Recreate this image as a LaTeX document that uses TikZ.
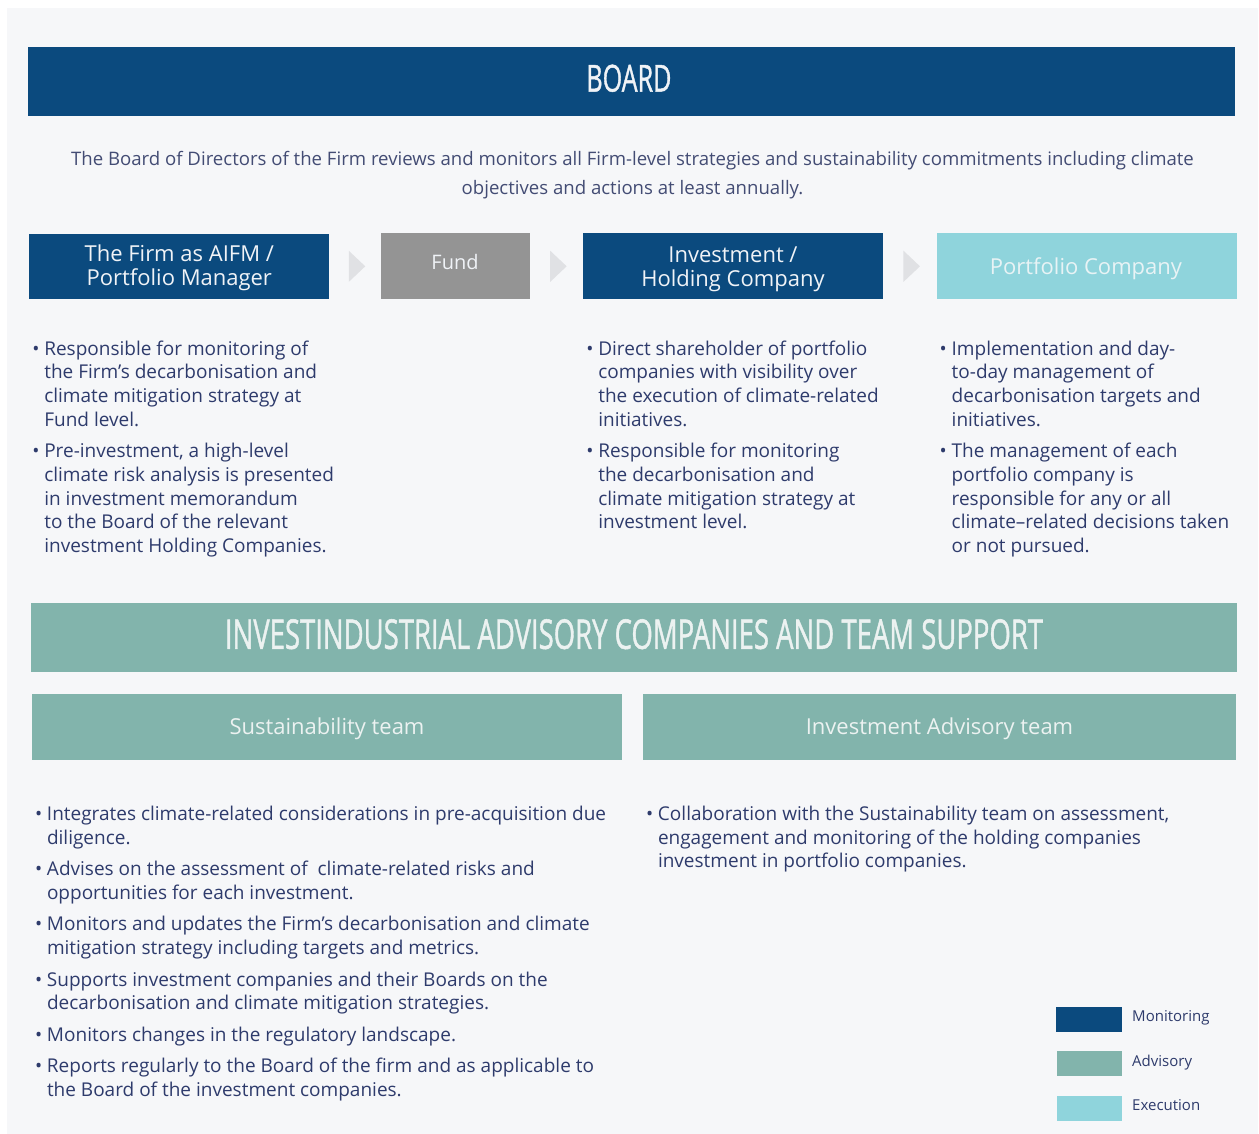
\documentclass[tikz,border=0pt]{standalone}
\usepackage{fontspec}
\setmainfont{Open Sans}
\setsansfont{Open Sans}
\newfontfamily\titlefont{Open Sans}[FakeBold=1.3]
\usetikzlibrary{calc}
\definecolor{navy}{HTML}{0B4A7E}
\definecolor{advis}{HTML}{82B4AC}
\definecolor{execu}{HTML}{8FD4DC}
\definecolor{fundgray}{HTML}{949494}
\definecolor{chevc}{HTML}{E0E1E4}
\definecolor{panelc}{HTML}{F6F7F9}
\definecolor{bodytxt}{HTML}{2E3B6C}
\definecolor{desctxt}{HTML}{434C74}
\definecolor{boxtxt}{HTML}{F0F3F7}
\definecolor{exectxt}{HTML}{E8F3F5}
\definecolor{advtxt}{HTML}{ECF2F1}
\newcommand{\bodysize}{\fontsize{19}{23.7}\selectfont}
\newcommand{\bitem}[1]{\par\hangindent=12pt\hangafter=1\noindent\makebox[12pt][l]{•}#1}
\newcommand{\bgap}{\par\vspace{7.8pt}}
\tikzset{
  rect/.style={anchor=north west, inner sep=0pt, outer sep=0pt},
  boxtitle/.style={anchor=base, inner sep=0pt, outer sep=0pt, font=\fontsize{22}{24.3}\selectfont},
  bullets/.style={anchor=base west, inner sep=0pt, outer sep=0pt, text=bodytxt},
  chev/.style={fill=chevc},
  legtxt/.style={anchor=base west, inner sep=0pt, text=bodytxt, font=\fontsize{15}{18}\selectfont},
}
\begin{document}
\begin{tikzpicture}[x=1pt,y=-1pt]
\useasboundingbox (0,0) rectangle (1259,1134);
\fill[white] (0,0) rectangle (1259,1134);
\fill[panelc] (7,8) rectangle (1258,1134);

% BOARD bar
\node[rect, fill=navy, minimum width=1207, minimum height=68.7] (board) at (28,47) {};
\node[inner sep=0pt, text=boxtxt] (boardtxt) at (628.9,78.3) {\resizebox{85pt}{27pt}{\titlefont BOARD}};

% description
\node[anchor=base, inner sep=0pt, text=desctxt] (desc) at (632.5,165.3)
 {\parbox[t]{1220pt}{\centering\fontsize{18.6}{28.8}\selectfont The Board of Directors of the Firm reviews and monitors all Firm-level strategies and sustainability commitments including climate\\objectives and actions at least annually.}};

% row of boxes
\node[rect, fill=navy, minimum width=300, minimum height=65.3] (firm) at (29,233.7) {};
\node[rect, fill=fundgray, minimum width=149, minimum height=66] (fund) at (380.5,233.3) {};
\node[rect, fill=navy, minimum width=300.4, minimum height=66] (hold) at (582.8,233.3) {};
\node[rect, fill=execu, minimum width=300, minimum height=66] (port) at (936.7,233.3) {};

\node[boxtitle, text=boxtxt] (firmtxt) at (179.3,261.7) {\parbox[t]{300pt}{\centering The Firm as AIFM /\\Portfolio Manager}};
\node[boxtitle, text=boxtxt, font=\fontsize{20}{24}\selectfont] (fundtxt) at (455,270) {Fund};
\node[boxtitle, text=boxtxt] (holdtxt) at (733,262.3) {\parbox[t]{300pt}{\centering Investment /\\Holding Company}};
\node[boxtitle, text=exectxt] (porttxt) at (1086,274.3) {Portfolio Company};

% chevrons
\fill[chev] ($(firm.east)!0.5!(fund.west)+(-6,-15.6)$) -- ++(16.5,15.6) -- ++(-16.5,15.6) -- cycle;
\fill[chev] ($(fund.east)!0.5!(hold.west)+(-6,-15.6)$) -- ++(16.5,15.6) -- ++(-16.5,15.6) -- cycle;
\fill[chev] ($(hold.east)!0.5!(port.west)+(-6.5,-15.6)$) -- ++(16.5,15.6) -- ++(-16.5,15.6) -- cycle;

% bullets row 1
\node[bullets] (firmb) at (32.3,355) {\parbox[t]{330pt}{\bodysize
\bitem{Responsible for monitoring of\newline the Firm’s decarbonisation and\newline climate mitigation strategy at\newline Fund level.}\bgap
\bitem{Pre-investment, a high-level\newline climate risk analysis is presented\newline in investment memorandum\newline to the Board of the relevant\newline investment Holding Companies.}}};

\node[bullets] (holdb) at (586.3,355) {\parbox[t]{330pt}{\bodysize
\bitem{Direct shareholder of portfolio\newline companies with visibility over\newline the execution of climate-related\newline initiatives.}\bgap
\bitem{Responsible for monitoring\newline the decarbonisation and\newline climate mitigation strategy at\newline investment level.}}};

\node[bullets] (portb) at (939.7,355) {\parbox[t]{330pt}{\bodysize
\bitem{Implementation and day-\newline to-day management of\newline decarbonisation targets and\newline initiatives.}\bgap
\bitem{The management of each\newline portfolio company is\newline responsible for any or all\newline climate–related decisions taken\newline or not pursued.}}};

% advisory bar
\node[rect, fill=advis, minimum width=1206, minimum height=69] (adv) at (31.4,602.7) {};
\node[inner sep=0pt, text=advtxt] (advtxt) at (634,634.2) {\resizebox{818pt}{29.7pt}{\titlefont INVESTINDUSTRIAL ADVISORY COMPANIES AND TEAM SUPPORT}};

\node[rect, fill=advis, minimum width=590.6, minimum height=66] (sust) at (31.8,694) {};
\node[rect, fill=advis, minimum width=593, minimum height=66] (iat) at (643,694) {};
\node[boxtitle, text=advtxt] (susttxt) at (327,734) {Sustainability team};
\node[boxtitle, text=advtxt] (iattxt) at (939.5,734) {Investment Advisory team};

% bullets row 2
\node[bullets] (sustb) at (35,820.5) {\parbox[t]{620pt}{\bodysize
\bitem{Integrates climate-related considerations in pre-acquisition due\newline diligence.}\bgap
\bitem{Advises on the assessment of\ \ climate-related risks and\newline opportunities for each investment.}\bgap
\bitem{Monitors and updates the Firm’s decarbonisation and climate\newline mitigation strategy including targets and metrics.}\bgap
\bitem{Supports investment companies and their Boards on the\newline decarbonisation and climate mitigation strategies.}\bgap
\bitem{Monitors changes in the regulatory landscape.}\bgap
\bitem{Reports regularly to the Board of the firm and as applicable to\newline the Board of the investment companies.}}};

\node[bullets] (iatb) at (646,820.5) {\parbox[t]{600pt}{\bodysize
\bitem{Collaboration with the Sustainability team on assessment,\newline engagement and monitoring of the holding companies\newline investment in portfolio companies.}}};

% legend
\node[rect, fill=navy, minimum width=66, minimum height=24.5] (legmon) at (1056,1007.3) {};
\node[rect, fill=advis, minimum width=65, minimum height=24.7] (legadv) at (1057,1051) {};
\node[rect, fill=execu, minimum width=65, minimum height=24.7] (legexe) at (1057,1096) {};
\node[legtxt] (legmontxt) at (1132,1021.7) {Monitoring};
\node[legtxt] (legadvtxt) at (1132,1066) {Advisory};
\node[legtxt] (legexetxt) at (1132,1110) {Execution};
\end{tikzpicture}
\end{document}
